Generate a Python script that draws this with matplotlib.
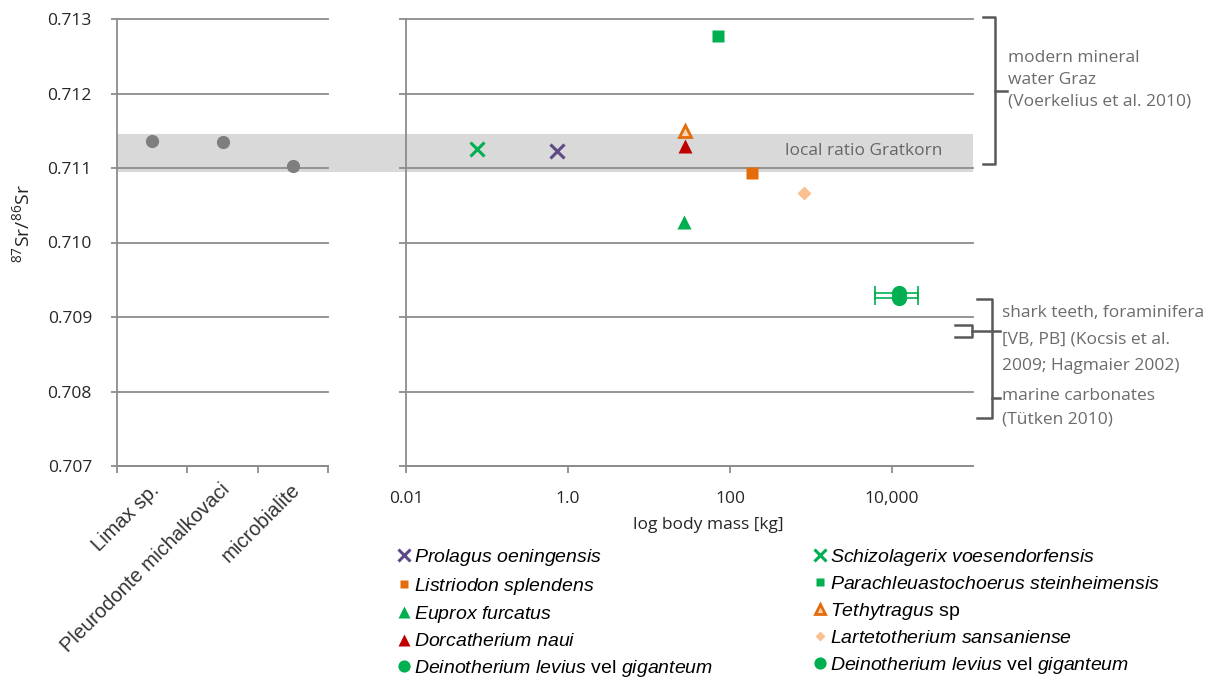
import matplotlib.pyplot as plt
import matplotlib.transforms as mtransforms
from matplotlib.patches import Rectangle
from matplotlib.lines import Line2D
from matplotlib.ticker import NullFormatter, NullLocator, FormatStrFormatter

plt.rcParams['font.family'] = ['Open Sans', 'DejaVu Sans']
plt.rcParams['mathtext.fontset'] = 'custom'
plt.rcParams['mathtext.it'] = 'Liberation Sans:italic'
plt.rcParams['mathtext.rm'] = 'Open Sans'

# left panel: non-mammal samples
left_cats = ['Limax sp.', 'Pleurodonte michalkovaci', 'microbialite']
left_sr = [0.71136, 0.71135, 0.71103]

# right panel: mammals, body mass [kg] vs 87Sr/86Sr
taxa = ['Prolagus', 'Listriodon', 'Euprox', 'Dorcatherium', 'Deinotherium1',
        'Schizolagerix', 'Parachleuastochoerus', 'Tethytragus', 'Lartetotherium', 'Deinotherium2']
taxa_labels = [r'$\mathit{Prolagus\ oeningensis}$',
               r'$\mathit{Listriodon\ splendens}$',
               r'$\mathit{Euprox\ furcatus}$',
               r'$\mathit{Dorcatherium\ naui}$',
               r'$\mathit{Deinotherium\ levius}$ vel $\mathit{giganteum}$',
               r'$\mathit{Schizolagerix\ voesendorfensis}$',
               r'$\mathit{Parachleuastochoerus\ steinheimensis}$',
               r'$\mathit{Tethytragus}$ sp',
               r'$\mathit{Lartetotherium\ sansaniense}$',
               r'$\mathit{Deinotherium\ levius}$ vel $\mathit{giganteum}$']
mass_kg = [0.73, 186, 27, 28, 12200, 0.075, 71, 28, 817, 12200]
sr_ratio = [0.71123, 0.71093, 0.71028, 0.71129, 0.70926, 0.71126, 0.71277, 0.71149, 0.71067, 0.70932]
mass_lo = [None, None, None, None, 6200, None, None, None, None, 6200]
mass_hi = [None, None, None, None, 21000, None, None, None, None, 21000]

xticks = [0.01, 1, 100, 10000]
xtick_labels = ['0.01', '1.0', '100', '10,000']
yticks = [0.707, 0.708, 0.709, 0.710, 0.711, 0.712, 0.713]

local_ratio = (0.71095, 0.71145)
modern_water = (0.71105, 0.71303)
marine = (0.70765, 0.70924)
shark = (0.70873, 0.70889)

styles = {
    'Prolagus': dict(marker='x', color='#5e4a86', ms=10, mew=2.2),
    'Schizolagerix': dict(marker='x', color='#00b050', ms=10, mew=2.2),
    'Listriodon': dict(marker='s', color='#e46c0a', ms=8),
    'Parachleuastochoerus': dict(marker='s', color='#00b050', ms=8),
    'Euprox': dict(marker='^', color='#00b050', ms=10),
    'Tethytragus': dict(marker='^', color='#e46c0a', mfc='#fbd5b5', mec='#e46c0a', mew=2, ms=9),
    'Dorcatherium': dict(marker='^', color='#c00000', ms=10),
    'Lartetotherium': dict(marker='D', color='#fac090', ms=7),
    'Deinotherium1': dict(marker='o', color='#00b050', ms=11),
    'Deinotherium2': dict(marker='o', color='#00b050', ms=11),
}

W, H = 1218, 679


def fx(px):
    return px / W


def fy(py):
    return 1 - py / H


fig = plt.figure(figsize=(W / 100, H / 100), dpi=100)
ax1 = fig.add_axes([fx(117), fy(466), fx(328) - fx(117), (466 - 19) / H])
ax2 = fig.add_axes([fx(406), fy(466), fx(973) - fx(406), (466 - 19) / H])

grid_c = '#8c8c8c'
for ax in (ax1, ax2):
    ax.set_facecolor('none')
    ax.set_ylim(0.707, 0.713)
    ax.set_yticks(yticks)
    ax.grid(axis='y', color=grid_c, lw=1.3)
    ax.set_axisbelow(True)
    for gl in ax.get_ygridlines():
        gl.set_clip_on(False)
    for s in ('top', 'right'):
        ax.spines[s].set_visible(False)
    for s in ('left', 'bottom'):
        ax.spines[s].set_color(grid_c)
        ax.spines[s].set_linewidth(1.3)
    ax.tick_params(colors=grid_c, labelcolor='#262626', length=5, width=1.3, labelsize=12.5)

# left panel
ax1.plot(range(len(left_cats)), left_sr, 'o', color='#7f7f7f', ms=9.5, mec='none', zorder=3)
ax1.set_xlim(-0.5, len(left_cats) - 0.5)
ax1.set_xticks([-0.5, 0.5, 1.5, 2.5])
ax1.xaxis.set_major_formatter(NullFormatter())
ax1.set_xticks(range(len(left_cats)), left_cats, minor=True)
ax1.tick_params(axis='x', which='minor', length=0, pad=15, labelsize=14.5)
ax1.tick_params(axis='y', pad=14, length=4)
ax1.yaxis.set_major_formatter(FormatStrFormatter('%.3f'))
shift = mtransforms.ScaledTranslation(4 / 100, 0, fig.dpi_scale_trans)
for lbl in ax1.get_xticklabels(minor=True):
    lbl.set_rotation(45)
    lbl.set_ha('right')
    lbl.set_va('center')
    lbl.set_rotation_mode('anchor')
    lbl.set_fontfamily('Liberation Sans')
    lbl.set_color('#333333')
    lbl.set_transform(lbl.get_transform() + shift)

# right panel
ax2.set_xscale('log')
ax2.set_xlim(0.01, 1e5)
ax2.set_xticks(xticks, xtick_labels)
ax2.xaxis.set_minor_locator(NullLocator())
ax2.tick_params(axis='x', pad=13)
ax2.tick_params(axis='y', labelleft=False)

handles = []
for name, m, s, lo, hi in zip(taxa, mass_kg, sr_ratio, mass_lo, mass_hi):
    if lo is not None:
        ax2.errorbar([m], [s], xerr=[[m - lo], [hi - m]], fmt='none', ecolor='#00b050',
                     elinewidth=1.2, capsize=5, capthick=1.2, zorder=3)
    st = dict(styles[name])
    if 'mec' not in st and st['marker'] != 'x':
        st['mec'] = 'none'
    h, = ax2.plot([m], [s], linestyle='none', zorder=4, **st)
    handles.append(h)

# local ratio band across both panels
trans = mtransforms.blended_transform_factory(fig.transFigure, ax2.transData)
fig.add_artist(Rectangle((fx(117), local_ratio[0]), fx(973) - fx(117), local_ratio[1] - local_ratio[0],
                         transform=trans, facecolor='#d9d9d9', edgecolor='none', zorder=-1))
fig.text(fx(785), fy(151), 'local ratio Gratkorn', ha='left', va='center', fontsize=12.5, color='#666666')

# brackets for reference ranges
br_c = '#595959'


def bracket(x, lo, hi, hook):
    fig.add_artist(Line2D([fx(x - hook), fx(x), fx(x), fx(x - hook)], [hi, hi, lo, lo],
                          transform=trans, color=br_c, lw=1.8))


def tick(x0, x1, y):
    fig.add_artist(Line2D([fx(x0), fx(x1)], [y, y], transform=trans, color=br_c, lw=1.8))


bracket(995, modern_water[0], modern_water[1], 12)
tick(995, 1007, (modern_water[0] + modern_water[1]) / 2)
bracket(992, marine[0], marine[1], 15)
bracket(972, shark[0], shark[1], 17)
tick(972, 1000, (shark[0] + shark[1]) / 2)
tick(992, 1000, 0.70791)

ann_c = '#6b6b6b'
annotations = [
    (1008, [(58, 'modern mineral'), (80, 'water Graz'), (102, '(Voerkelius et al. 2010)')]),
    (1002, [(313, 'shark teeth, foraminifera'), (339, '[VB, PB] (Kocsis et al.'),
            (366, '2009; Hagmaier 2002)')]),
    (1002, [(396, 'marine carbonates'), (420, '(Tütken 2010)')]),
]
for x0, lines in annotations:
    for y0, txt in lines:
        fig.text(fx(x0), fy(y0), txt, ha='left', va='center', fontsize=12.5, color=ann_c)

# axis titles
fig.text(fx(708), fy(525), 'log body mass [kg]', ha='center', va='center', fontsize=12.5, color='#262626')
fig.text(fx(22), fy(224), r'$^{87}$Sr/$^{86}$Sr', rotation=90, ha='center', va='center',
         fontsize=14, color='#262626')

# legend in two columns
leg_kw = dict(loc='upper left', frameon=False, borderpad=0, borderaxespad=0, handlelength=0.55,
              handletextpad=0.2, labelspacing=0.39, prop={'family': 'Liberation Sans', 'size': 14},
              markerscale=0.8, numpoints=1)
fig.legend(handles[:5], taxa_labels[:5], bbox_to_anchor=(fx(399), fy(547)), **leg_kw)
fig.legend(handles[5:], taxa_labels[5:], bbox_to_anchor=(fx(815), fy(547)), **leg_kw)

fig.savefig('out.png', dpi=100)
